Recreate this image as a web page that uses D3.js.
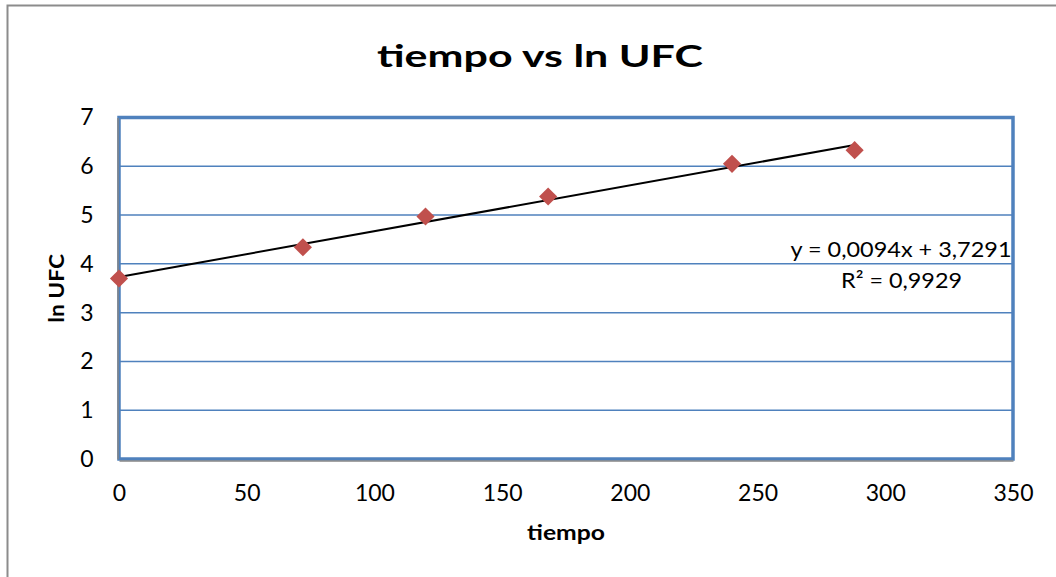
<!DOCTYPE html>
<html>
<head>
<meta charset="utf-8">
<script src="https://cdn.jsdelivr.net/npm/d3@7"></script>
<style>
  html, body { margin: 0; padding: 0; background: #fff; }
  svg { display: block; font-family: Lato, "Open Sans", sans-serif; }
</style>
</head>
<body>
<svg id="chart" width="1056" height="577"></svg>
<script>
// Measurements: time (tiempo) and natural log of colony-forming units
const tiempo = [0, 72, 120, 168, 240, 288];
const lnUFC = [3.70, 4.34, 4.97, 5.38, 6.05, 6.33];

// Linear trendline coefficients shown on the chart
const slope = 0.0094;
const intercept = 3.7291;
const rSquared = 0.9929;

const xTicks = [0, 50, 100, 150, 200, 250, 300, 350];
const yTicks = [0, 1, 2, 3, 4, 5, 6, 7];

const svg = d3.select("#chart");
const W = 1056, H = 577;
const plot = { left: 119, right: 1013, top: 117.5, bottom: 459 };

// Outer chart frame
svg.append("rect")
  .attr("x", 7.5).attr("y", 5.5)
  .attr("width", W + 10).attr("height", H + 10)
  .attr("fill", "#fff")
  .attr("stroke", "#8c8c8c")
  .attr("stroke-width", 2);

const x = d3.scaleLinear().domain([0, 350]).range([plot.left, plot.right]);
const y = d3.scaleLinear().domain([0, 7]).range([plot.bottom, plot.top]);

// Horizontal gridlines
svg.append("g")
  .selectAll("line")
  .data(yTicks.filter(d => d > 0 && d < 7))
  .join("line")
  .attr("x1", plot.left).attr("x2", plot.right)
  .attr("y1", d => y(d)).attr("y2", d => y(d))
  .attr("stroke", "#4f81bd")
  .attr("stroke-width", 1.5);

// Plot area border
svg.append("rect")
  .attr("x", plot.left).attr("y", plot.top)
  .attr("width", plot.right - plot.left)
  .attr("height", plot.bottom - plot.top)
  .attr("fill", "none")
  .attr("stroke", "#4f81bd")
  .attr("stroke-width", 3.5);

// Axes (gray axis lines sit over the blue frame)
const xAxis = svg.append("g")
  .attr("transform", `translate(0,${plot.bottom + 1.5})`)
  .call(d3.axisBottom(x).tickValues(xTicks).tickSize(0).tickPadding(24).tickFormat(d3.format("d")));
xAxis.select(".domain").attr("stroke", "#868686").attr("stroke-width", 1.5);

const yAxis = svg.append("g")
  .attr("transform", `translate(${plot.left - 1.5},0)`)
  .call(d3.axisLeft(y).tickValues(yTicks).tickSize(0).tickPadding(24).tickFormat(d3.format("d")));
yAxis.select(".domain").attr("stroke", "#868686").attr("stroke-width", 1.5);

svg.selectAll(".tick text")
  .attr("font-family", "Lato, 'Open Sans', sans-serif")
  .attr("font-size", 23)
  .attr("fill", "#000");

// Trendline over the observed range
const xs = d3.extent(tiempo);
svg.append("line")
  .attr("x1", x(xs[0])).attr("y1", y(intercept + slope * xs[0]))
  .attr("x2", x(xs[1])).attr("y2", y(intercept + slope * xs[1]))
  .attr("stroke", "#000")
  .attr("stroke-width", 2);

// Diamond markers
const diamond = d3.symbol().type(d3.symbolDiamond2).size(210);
svg.append("g")
  .selectAll("path")
  .data(tiempo.map((t, i) => [t, lnUFC[i]]))
  .join("path")
  .attr("d", diamond)
  .attr("transform", d => `translate(${x(d[0])},${y(d[1])})`)
  .attr("fill", "#c0504d");

// Trendline equation
const fmt4 = v => v.toFixed(4).replace(".", ",");
svg.append("text")
  .attr("x", 901).attr("y", 257)
  .attr("text-anchor", "middle")
  .attr("font-size", 22)
  .attr("textLength", 221).attr("lengthAdjust", "spacingAndGlyphs")
  .text(`y = ${fmt4(slope)}x + ${fmt4(intercept)}`);
svg.append("text")
  .attr("x", 901.5).attr("y", 288)
  .attr("text-anchor", "middle")
  .attr("font-size", 22)
  .attr("textLength", 121).attr("lengthAdjust", "spacingAndGlyphs")
  .text(`R² = ${fmt4(rSquared)}`);

// Title and axis titles
svg.append("text")
  .attr("x", 540).attr("y", 67)
  .attr("text-anchor", "middle")
  .attr("font-size", 31)
  .attr("font-weight", "bold")
  .attr("textLength", 326).attr("lengthAdjust", "spacingAndGlyphs")
  .text("tiempo vs ln UFC");

svg.append("text")
  .attr("x", 566).attr("y", 540)
  .attr("text-anchor", "middle")
  .attr("font-size", 21)
  .attr("font-weight", "bold")
  .attr("textLength", 78).attr("lengthAdjust", "spacingAndGlyphs")
  .text("tiempo");

svg.append("text")
  .attr("transform", `translate(64,${(plot.top + plot.bottom) / 2}) rotate(-90)`)
  .attr("text-anchor", "middle")
  .attr("font-size", 21)
  .attr("font-weight", "bold")
  .attr("textLength", 69).attr("lengthAdjust", "spacingAndGlyphs")
  .text("ln UFC");
</script>
</body>
</html>
